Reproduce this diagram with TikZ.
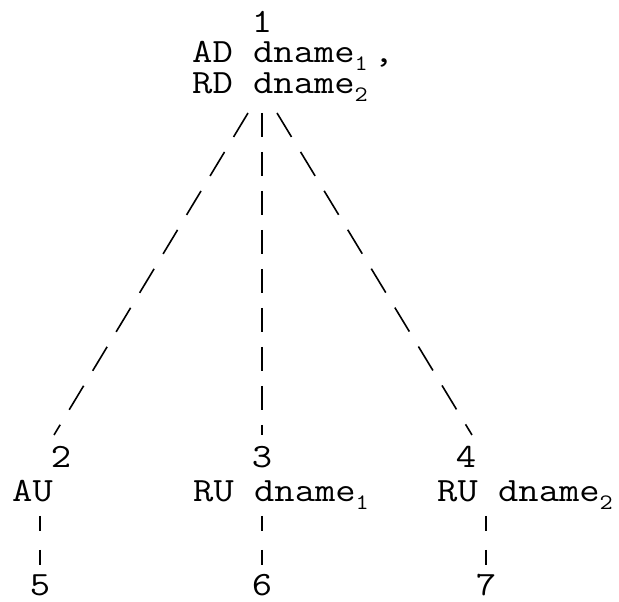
\documentclass[tikz,border=0pt]{standalone}
\usetikzlibrary{calc}

% widened typewriter lettering for all labels
\newcommand{\wtt}[1]{\scalebox{1.16}[1]{#1}}
\newcommand{\lowsub}[1]{\raisebox{-8pt}{\fontsize{22}{22}\selectfont #1}}

\tikzset{
  lbl/.style={inner sep=0pt, anchor=base west,
    font=\ttfamily\fontsize{34}{34}\selectfont},
  num/.style={inner sep=0pt, anchor=base,
    font=\ttfamily\fontsize{34}{34}\selectfont},
  edge/.style={line width=1.6pt, dash pattern=on 24pt off 15pt},
  slant/.style={line width=1.6pt, dash pattern=on 28pt off 17.5pt},
  stub/.style={line width=1.6pt, dash pattern=on 15pt off 19pt},
}

\begin{document}
\begin{tikzpicture}[x=1pt, y=1pt]
  \useasboundingbox (0,0) rectangle (619,602);

  % root
  \node[num] (n1) at (262,569) {\wtt{1}};
  \node[lbl] (r1a) at (192,539) {\wtt{AD dname\lowsub{1}\kern5pt,}};
  \node[lbl] (r1b) at (192,508) {\wtt{RD dname\lowsub{2}}};

  % children
  \node[num] (n2) at (61,134) {\wtt{2}};
  \node[num] (n3) at (262,134) {\wtt{3}};
  \node[num] (n4) at (466,134) {\wtt{4}};
  \node[lbl] (c2) at (12,100) {\wtt{AU}};
  \node[lbl] (c3) at (193,100) {\wtt{RU dname\lowsub{1}}};
  \node[lbl] (c4) at (437,100) {\wtt{RU dname\lowsub{2}}};

  % leaves
  \node[num] (n5) at (40,6) {\wtt{5}};
  \node[num] (n6) at (262,6) {\wtt{6}};
  \node[num] (n7) at (486,6) {\wtt{7}};

  % ends of the branches
  \coordinate (s2) at ($(r1b.base west)+(56,-19)$);
  \coordinate (s3) at ($(r1b.base west)+(70,-19)$);
  \coordinate (s4) at ($(r1b.base west)+(85,-19)$);
  \coordinate (e2) at ($(n2.base)+(-7,33)$);
  \coordinate (e3) at ($(n3.base)+(0,33)$);
  \coordinate (e4) at ($(n4.base)+(6,33)$);

  \draw[slant] (s2) -- (e2);
  \draw[edge]  (s3) -- (e3);
  \draw[slant] (s4) -- (e4);

  % stubs down to the leaves
  \coordinate (u5) at ($(n5.base)+(0,80)$);
  \coordinate (u6) at ($(n6.base)+(0,80)$);
  \coordinate (u7) at ($(n7.base)+(0,80)$);
  \draw[stub] (u5) -- ($(n5.base)+(0,29)$);
  \draw[stub] (u6) -- ($(n6.base)+(0,29)$);
  \draw[stub] (u7) -- ($(n7.base)+(0,29)$);
\end{tikzpicture}
\end{document}
